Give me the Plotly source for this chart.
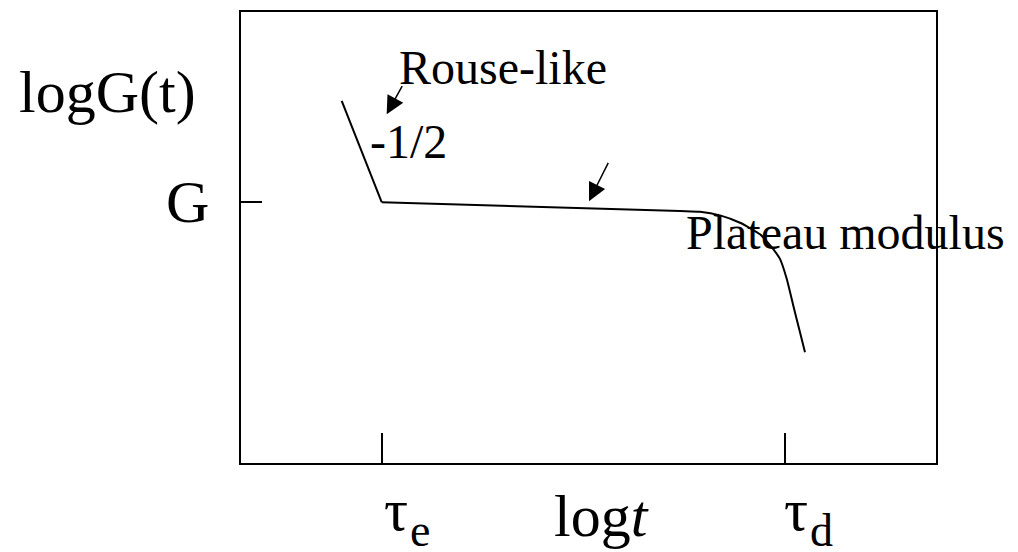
import plotly.graph_objects as go

# Stress relaxation modulus of an entangled melt, log G(t) vs log t (arbitrary units)
# Rouse-like regime (slope -1/2), up to the entanglement time
rouse_log_t = [1.449, 2.024]
rouse_log_G = [8.030, 5.784]
# rubbery plateau and terminal relaxation
plateau_log_t = [2.024, 6.317, 6.604, 6.892, 7.180, 7.468, 7.655, 7.755, 7.852, 7.947, 8.043, 8.115]
plateau_log_G = [5.784, 5.585, 5.570, 5.490, 5.327, 5.071, 4.746, 4.525, 4.084, 3.488, 2.898, 2.457]

# characteristic times and plateau level
TAU_E = 2.03
TAU_D = 7.83
G_PLATEAU = 5.78

# arrow (tail -> tip) pairs
rouse_arrow = dict(tail=(2.331, 8.389), tip=(2.096, 7.733))
plateau_arrow = dict(tail=(5.295, 6.689), tip=(5.007, 5.806))

X_RANGE = [0, 10]
Y_RANGE = [0, 10]
FONT = "Liberation Serif, Times New Roman, serif"

fig = go.Figure()
fig.add_trace(go.Scatter(
    x=rouse_log_t, y=rouse_log_G, mode="lines",
    line=dict(color="black", width=2),
    showlegend=False, hoverinfo="skip",
))
fig.add_trace(go.Scatter(
    x=plateau_log_t, y=plateau_log_G, mode="lines",
    line=dict(color="black", width=2, shape="spline", smoothing=0.5),
    showlegend=False, hoverinfo="skip",
))

annotations = []
for arr in (rouse_arrow, plateau_arrow):
    annotations.append(dict(
        x=arr["tip"][0], y=arr["tip"][1], ax=arr["tail"][0], ay=arr["tail"][1],
        xref="x", yref="y", axref="x", ayref="y",
        showarrow=True, arrowhead=2, arrowsize=2.4, arrowwidth=1.5,
        arrowcolor="black", text="",
    ))


def to_paper(v, rng):
    return (v - rng[0]) / (rng[1] - rng[0])


def label(text, x, y, size, xanchor="left"):
    # paper coordinates so labels may sit outside the plotting area
    annotations.append(dict(
        x=to_paper(x, X_RANGE), y=to_paper(y, Y_RANGE),
        xref="paper", yref="paper", text=text, showarrow=False,
        xanchor=xanchor, yanchor="middle",
        font=dict(family=FONT, size=size, color="black"),
    ))


label("Rouse-like", 2.24, 8.76, 48)
label("-1/2", 1.83, 7.12, 48)
label("Plateau modulus", 6.38, 5.10, 48)
label("logG(t)", -3.223, 8.234, 60)
label("G", -0.432, G_PLATEAU, 60, xanchor="right")
label("log<i>t</i>", 4.475, -1.184, 60)
# tau symbols with their subscripts set as separate, smaller text
label("τ", 2.029, -1.049, 60)
label("e", 2.403, -1.495, 46)
label("τ", 7.784, -1.049, 60)
label("d", 8.158, -1.495, 46)

fig.update_layout(
    width=1018, height=552,
    margin=dict(l=241, r=82, t=10, b=89),
    paper_bgcolor="white", plot_bgcolor="white",
    annotations=annotations,
    xaxis=dict(
        range=X_RANGE, showgrid=False, zeroline=False,
        showline=True, mirror=True, linecolor="black", linewidth=2,
        ticks="inside", ticklen=30, tickwidth=1.5, tickcolor="black",
        tickvals=[TAU_E, TAU_D], showticklabels=False,
    ),
    yaxis=dict(
        range=Y_RANGE, showgrid=False, zeroline=False,
        showline=True, mirror=True, linecolor="black", linewidth=2,
        ticks="inside", ticklen=21, tickwidth=1.5, tickcolor="black",
        tickvals=[G_PLATEAU], showticklabels=False,
    ),
)

fig.write_html("out.html")
